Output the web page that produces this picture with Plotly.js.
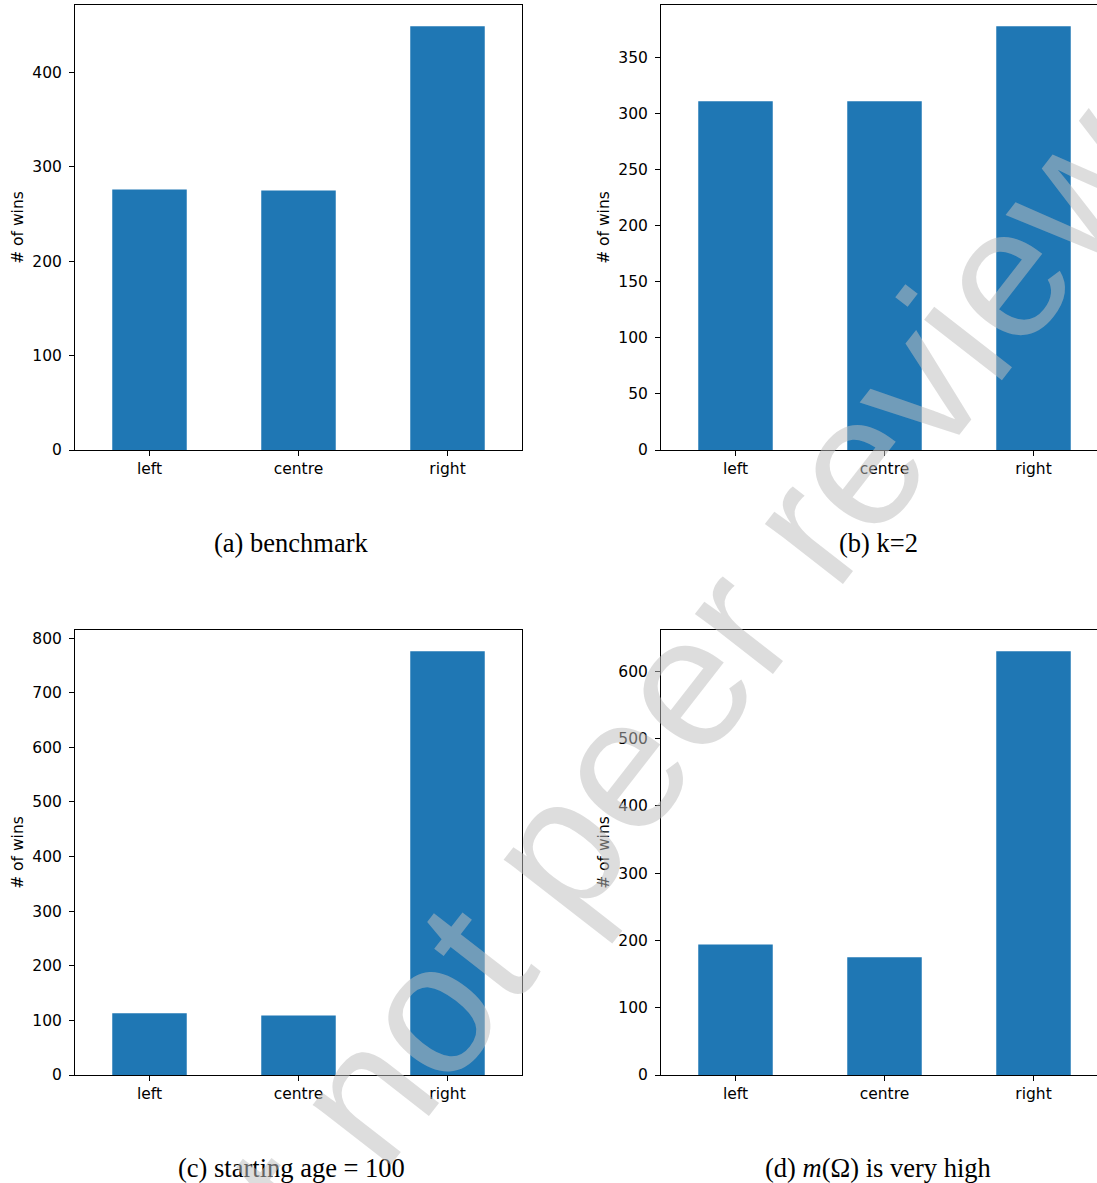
<!DOCTYPE html>
<html>
<head>
<meta charset="utf-8">
<script src="https://cdn.plot.ly/plotly-3.0.1.min.js"></script>
<style>
  html, body { margin: 0; padding: 0; overflow: hidden; background: #fff; }
  #fig { width: 1110px; height: 1183px; }
</style>
</head>
<body>
<div id="fig"></div>
<script>
// Outcome categories shared by all four panels
const categories = ['left', 'centre', 'right'];

// Number of wins per scenario
const benchmarkWins = [276, 275, 449];
const kTwoWins = [311, 311, 378];
const startingAgeWins = [113, 109, 776];
const highMeasureWins = [194, 175, 630];

// Y tick spacing per panel
const yTickSteps = [100, 50, 100, 100];

// Sub-figure captions
const captions = [
  '(a) benchmark',
  '(b) k=2',
  '(c) starting age = 100',
  '(d) <i>m</i>(\u03A9) is very high'
];

const yTitle = '# of wins';
const stamp = 'Preprint not peer reviewed';

const W = 1110, H = 1183;
const px = v => v / W;          // horizontal pixel -> paper fraction
const py = v => 1 - v / H;      // vertical pixel (from top) -> paper fraction

const panels = [benchmarkWins, kTwoWins, startingAgeWins, highMeasureWins];
// frame boxes in pixels: [left, right, top, bottom]
const boxes = [
  [75, 522, 5, 450],
  [661, 1108, 5, 450],
  [75, 522, 630, 1075],
  [661, 1108, 630, 1075]
];
const captionCentres = [[291.5, 543], [878.5, 543], [291.5, 1168], [878, 1168]];

const tickFont = { family: 'DejaVu Sans', size: 15.5, color: '#000' };

const data = [];
const layout = {
  width: W, height: H,
  margin: { l: 0, r: 0, t: 0, b: 0 },
  paper_bgcolor: '#fff',
  plot_bgcolor: '#fff',
  showlegend: false,
  annotations: []
};

panels.forEach((vals, i) => {
  const n = i === 0 ? '' : String(i + 1);
  const [l, r, t, b] = boxes[i];
  data.push({
    type: 'bar',
    x: categories,
    y: vals,
    xaxis: 'x' + n,
    yaxis: 'y' + n,
    width: 0.5,
    marker: { color: '#1f77b4', line: { width: 0 } },
    hoverinfo: 'none'
  });
  layout['xaxis' + n] = {
    domain: [px(l), px(r)],
    anchor: 'y' + n,
    type: 'category',
    range: [-0.5, 2.5],
    showline: true, mirror: true, linecolor: '#000', linewidth: 1,
    ticks: 'outside', ticklen: 5, tickwidth: 1, tickcolor: '#000',
    ticklabelstandoff: -1,
    showgrid: false, zeroline: false,
    tickfont: tickFont,
    fixedrange: true
  };
  layout['yaxis' + n] = {
    domain: [py(b), py(t)],
    anchor: 'x' + n,
    range: [0, Math.max(...vals) * 1.05],
    tick0: 0, dtick: yTickSteps[i],
    showline: true, mirror: true, linecolor: '#000', linewidth: 1,
    ticks: 'outside', ticklen: 5, tickwidth: 1, tickcolor: '#000',
    ticklabelstandoff: 4,
    showgrid: false, zeroline: false,
    tickfont: tickFont,
    title: { text: yTitle, font: tickFont, standoff: 4 },
    fixedrange: true
  };
  const [cx, cy] = captionCentres[i];
  layout.annotations.push({
    text: captions[i],
    xref: 'paper', yref: 'paper',
    x: px(cx), y: py(cy),
    xanchor: 'center', yanchor: 'middle',
    showarrow: false,
    font: { family: 'Liberation Serif', size: 26.5, color: '#000' }
  });
});

// Diagonal preprint stamp laid over the whole page
layout.annotations.push({
  text: stamp,
  xref: 'paper', yref: 'paper',
  x: px(570), y: py(829),
  xanchor: 'center', yanchor: 'middle',
  textangle: -52.1,
  showarrow: false,
  font: { family: 'Liberation Sans', size: 186.5, color: 'rgba(190,190,190,0.52)' }
});

Plotly.newPlot('fig', data, layout, { staticPlot: true, displayModeBar: false });
</script>
</body>
</html>
